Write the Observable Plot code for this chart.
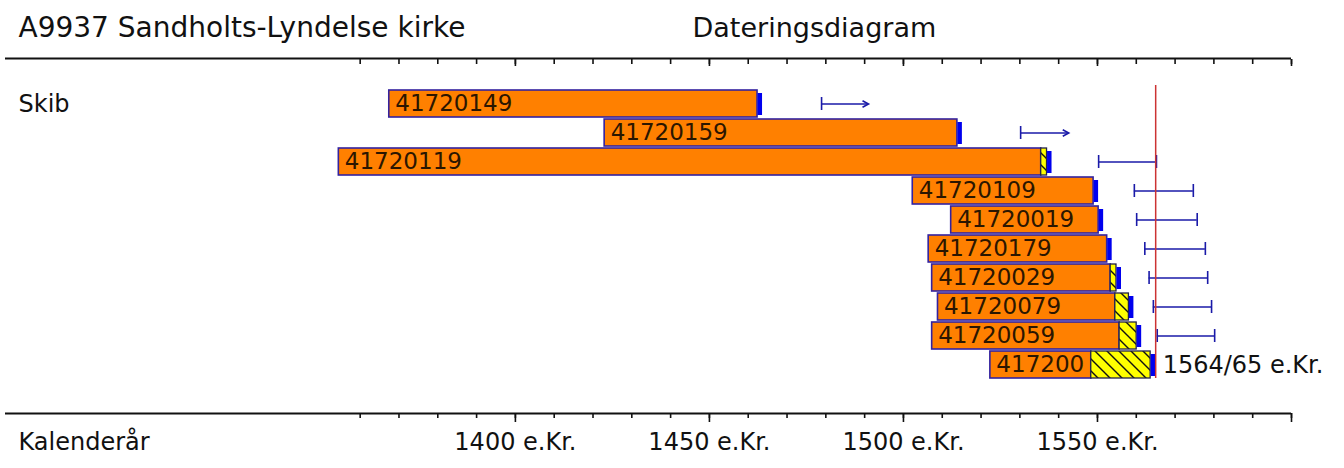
<!DOCTYPE html>
<html><head><meta charset="utf-8">
<script src="https://cdn.jsdelivr.net/npm/d3@7"></script>
<script src="https://cdn.jsdelivr.net/npm/@observablehq/plot@0.6"></script>
<style>body{margin:0;background:#fff} svg{display:block}</style>
</head><body><div id="chart"></div>
<script>
const title = "A9937 Sandholts-Lyndelse kirke";
const subtitle = "Dateringsdiagram";
const groupLabel = "Skib";
const axisLabel = "Kalenderår";
const ids = ["41720149","41720159","41720119","41720109","41720019","41720179","41720029","41720079","41720059","417200"];
const starts     = [1367.5, 1423.0, 1354.5, 1502.4, 1512.3, 1506.5, 1507.4, 1508.9, 1507.4, 1522.4];
const heartEnds  = [1462.4, 1513.9, 1535.5, 1549.0, 1550.3, 1552.5, 1553.4, 1554.6, 1555.7, 1548.4];
const sapEnds    = [null,   null,   1537.0, null,   null,   null,   1554.9, 1558.1, 1560.1, 1563.7];
const fellFrom   = [1478.9, 1530.2, 1550.3, 1559.5, 1560.1, 1562.2, 1563.3, 1564.4, 1565.4, null];
const fellTo     = [1491.0, 1542.6, 1565.2, 1574.7, 1575.7, 1577.8, 1578.4, 1579.4, 1580.2, null];
const openEnded  = [true,   true,   false,  false,  false,  false,  false,  false,  false,  false];
const fellingYear = 1565;
const fellingLabel = "1564/65 e.Kr.";
const minorTicks = [1360,1370,1380,1390,1400,1410,1420,1430,1440,1450,1460,1470,1480,1490,1500,1510,1520,1530,1540,1550,1560,1570,1580,1590,1600];
const majorTicks = [1400,1450,1500,1550,1600];
const labelTicks = [1400,1450,1500,1550];

const rows = ids.map((id, i) => ({
  id, start: starts[i], heartEnd: heartEnds[i], sapEnd: sapEnds[i],
  end: sapEnds[i] ?? heartEnds[i], from: fellFrom[i], to: fellTo[i], open: openEnded[i]
}));
const sapRows = rows.filter(d => d.sapEnd != null);
const fellRows = rows.filter(d => d.from != null);
const closedRows = fellRows.filter(d => !d.open);
const openRows = fellRows.filter(d => d.open);
const lastRow = rows[rows.length - 1];

const chevron = {draw(ctx, size) { const r = Math.sqrt(size / Math.PI); ctx.moveTo(-r, -r * 0.55); ctx.lineTo(0, 0); ctx.lineTo(-r, r * 0.55); }};

const ink = "#111";
const barStroke = "#3322a0";
const errStroke = "#1a1aa8";
const font = "DejaVu Sans";
const W = 1344, H = 468, mT = 58, mB = 55;
const halfFrame = (H - mT - mB) / 2;

const plot = Plot.plot({
  width: W, height: H,
  marginTop: mT, marginBottom: mB, marginLeft: 5, marginRight: 53,
  style: {fontFamily: font, fontSize: "24px", color: ink, background: "#fff"},
  x: {domain: [1268.6, 1600], axis: null},
  y: {type: "band", domain: ids, paddingInner: 0.085, paddingOuter: 1.06, align: 0.48, axis: null},
  marks: [
    Plot.ruleY([{}], {y: null, dy: -halfFrame, stroke: ink, strokeWidth: 2}),
    Plot.ruleY([{}], {y: null, dy: halfFrame, stroke: ink, strokeWidth: 2}),
    Plot.axisX({anchor: "top", ticks: minorTicks, tickSize: -5, tickFormat: () => "", strokeWidth: 1.6}),
    Plot.axisX({anchor: "top", ticks: majorTicks, tickSize: -7, tickFormat: () => "", strokeWidth: 1.6}),
    Plot.axisX({anchor: "bottom", ticks: minorTicks, tickSize: 5, tickFormat: () => "", strokeWidth: 1.6}),
    Plot.axisX({anchor: "bottom", ticks: majorTicks, tickSize: 9, tickFormat: () => "", strokeWidth: 1.6}),
    Plot.axisX({anchor: "bottom", ticks: labelTicks, tickSize: 0, tickPadding: 19, tickFormat: d => `${d} e.Kr.`, fontSize: 24}),
    Plot.text([title], {frameAnchor: "top-left", dx: 13, dy: -30, text: d => d, textAnchor: "start", lineAnchor: "middle", fontSize: 28, fill: ink}),
    Plot.text([subtitle], {frameAnchor: "top-left", dx: 687, dy: -30, text: d => d, textAnchor: "start", lineAnchor: "middle", fontSize: 27, fill: ink}),
    Plot.text([{label: groupLabel, row: ids[0]}], {y: "row", text: "label", frameAnchor: "left", dx: 13, textAnchor: "start", fontSize: 24, fill: ink}),
    Plot.text([axisLabel], {frameAnchor: "bottom-left", dx: 13, dy: 29, text: d => d, textAnchor: "start", lineAnchor: "middle", fontSize: 24, fill: ink}),
    Plot.barX(rows, {y: "id", x1: "start", x2: "heartEnd", fill: "#ff8000", stroke: barStroke, strokeWidth: 1.6}),
    Plot.text(rows, {x: "start", y: "id", text: "id", textAnchor: "start", dx: 6, fontSize: 23, fill: "#2b1600"}),
    Plot.barX(sapRows, {y: "id", x1: "heartEnd", x2: "sapEnd", fill: "url(#hatch)", stroke: "#22224a", strokeWidth: 1.3}),
    Plot.tickX(rows, {x: "end", y: "id", stroke: "#0000ee", strokeWidth: 4.5, dx: 2.25, insetTop: 3, insetBottom: 2}),
    Plot.ruleY(fellRows, {y: "id", x1: "from", x2: "to", stroke: errStroke, strokeWidth: 1.6}),
    Plot.tickX(fellRows, {x: "from", y: "id", stroke: errStroke, strokeWidth: 1.6, insetTop: 7, insetBottom: 7}),
    Plot.tickX(closedRows, {x: "to", y: "id", stroke: errStroke, strokeWidth: 1.6, insetTop: 7, insetBottom: 7}),
    Plot.dot(openRows, {x: "to", y: "id", symbol: chevron, r: 6, stroke: errStroke, strokeWidth: 1.6, fill: "none"}),
    Plot.ruleX([{x: fellingYear, y1: ids[0], y2: ids[ids.length - 1]}], {x: "x", y1: "y1", y2: "y2", stroke: "#cc3333", strokeWidth: 1.5, insetTop: -5}),
    Plot.text([{x: lastRow.end, row: lastRow.id, label: fellingLabel}], {x: "x", y: "row", text: "label", textAnchor: "start", dx: 12, fontSize: 24, fill: ink})
  ]
});

const svg = d3.select(plot);
const pat = svg.insert("defs", ":first-child").append("pattern")
  .attr("id", "hatch").attr("patternUnits", "userSpaceOnUse").attr("width", 12).attr("height", 12);
pat.append("rect").attr("width", 12).attr("height", 12).attr("fill", "#ffff00");
pat.append("path").attr("d", "M0,0L12,12M-3,9L3,15M9,-3L15,3").attr("stroke", "#111").attr("stroke-width", 1.4);

document.getElementById("chart").appendChild(plot);
</script>
</body></html>
